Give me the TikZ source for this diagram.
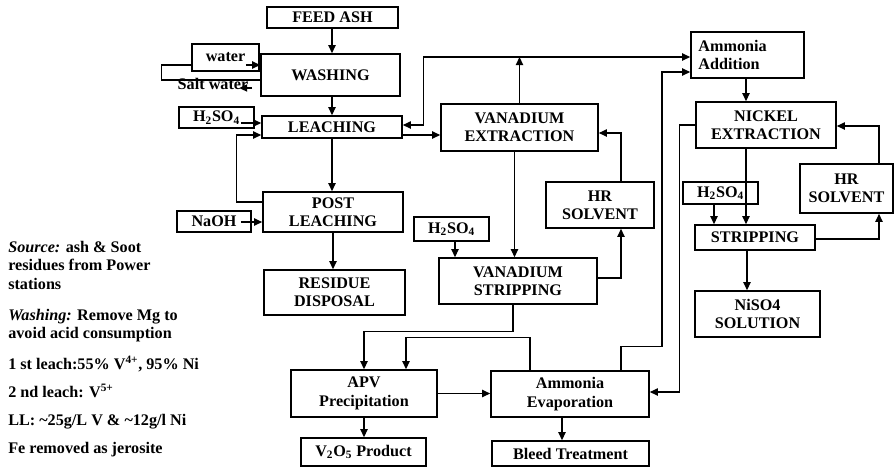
\documentclass[tikz,border=0pt]{standalone}
\usepackage{fontspec}
\setmainfont{Liberation Serif}
\usetikzlibrary{arrows.meta, calc}
\tikzset{
  box/.style={rectangle, draw, line width=1.1pt, align=center, inner sep=2pt,
              font=\fontsize{11.5}{13}\selectfont\bfseries},
  feedin/.style={box, inner sep=1pt},
  notes/.style={align=left, inner sep=0pt, font=\fontsize{11.5}{13}\selectfont\bfseries},
  flow/.style={-{Triangle[length=2mm, width=1.8mm]}, line width=0.9pt},
  link/.style={line width=0.9pt}
}

\begin{document}
\begin{tikzpicture}[x=0.025cm, y=-0.025cm]
  \useasboundingbox (0,0) rectangle (894,470);

  % left column
  \node[box, minimum width=3.275cm, minimum height=0.525cm] (feed) at (332.5,17.5) {FEED ASH};
  \node[box, minimum width=3.475cm, minimum height=1.05cm] (wash) at (330.5,75) {WASHING};
  \node[feedin, minimum width=1.675cm, minimum height=0.675cm] (water) at (225.5,57.5) {water};
  \node[font=\fontsize{11.5}{13}\selectfont\bfseries, inner sep=0pt] (salt) at (213,84) {Salt water};
  \node[feedin, minimum width=1.875cm, minimum height=0.525cm] (acidA) at (216.5,117.5) {H\textsubscript{2}SO\textsubscript{4}};
  \node[box, minimum width=3.5cm, minimum height=0.55cm] (leach) at (332,127) {LEACHING};
  \node[box, minimum width=3.5cm, minimum height=1.0cm] (post) at (333,212) {POST\\LEACHING};
  \node[feedin, minimum width=1.85cm, minimum height=0.525cm] (naoh) at (214,221.5) {NaOH};
  \node[box, minimum width=3.525cm, minimum height=1.125cm] (resid) at (334.5,292.5) {RESIDUE\\DISPOSAL};

  % vanadium circuit
  \node[box, minimum width=3.925cm, minimum height=1.175cm] (vext) at (519.5,127.5) {VANADIUM\\EXTRACTION};
  \node[box, minimum width=2.7cm, minimum height=1.15cm] (hrv) at (600,205) {HR\\SOLVENT};
  \node[feedin, minimum width=1.875cm, minimum height=0.6cm] (acidB) at (451.5,229) {H\textsubscript{2}SO\textsubscript{4}};
  \node[box, minimum width=3.95cm, minimum height=1.15cm] (vstr) at (518,281) {VANADIUM\\STRIPPING};
  \node[box, minimum width=3.65cm, minimum height=1.175cm] (apv) at (364,393.5) {APV\\Precipitation};
  \node[box, minimum width=3.95cm, minimum height=1.15cm] (amevap) at (570,394) {Ammonia\\Evaporation};
  \node[box, minimum width=3.125cm, minimum height=0.7cm] (v2o5) at (363.5,452) {V\textsubscript{2}O\textsubscript{5} Product};
  \node[box, minimum width=3.925cm, minimum height=0.625cm] (bleed) at (570.5,453.5) {Bleed Treatment};

  % nickel circuit
  \node[box, text width=2.45cm, align=left, minimum width=2.825cm, minimum height=1.15cm] (amadd) at (747.5,55) {Ammonia\\Addition};
  \node[box, minimum width=3.5cm, minimum height=1.15cm] (niext) at (766,125) {NICKEL\\EXTRACTION};
  \node[feedin, minimum width=1.875cm, minimum height=0.55cm] (acidC) at (720.5,193) {H\textsubscript{2}SO\textsubscript{4}};
  \node[box, minimum width=2.325cm, minimum height=1.225cm] (hrn) at (846.5,188.5) {HR\\SOLVENT};
  \node[box, minimum width=3.0cm, minimum height=0.625cm] (nistr) at (755,237.5) {STRIPPING};
  \node[box, minimum width=3.125cm, minimum height=1.15cm] (niso) at (757.5,314) {NiSO4\\SOLUTION};

  % notes
  \node[notes, anchor=north west] (remarks) at (8,241) {\textit{Source:} ash \& Soot\\
    residues from Power\\ stations\\[9pt]
    \textit{Washing:} Remove Mg to\\ avoid acid consumption\\[9pt]
    1 st leach:55\% V\textsuperscript{4+}, 95\% Ni\\[7pt]
    2 nd leach: V\textsuperscript{5+}\\[7pt]
    LL: \textasciitilde25g/L V \& \textasciitilde12g/l Ni\\[7pt]
    Fe removed as jerosite};

  % ash side
  \draw[flow] (feed.south -| leach.north) -- (wash.north -| leach.north);
  \draw[flow] (wash.south -| leach.north) -- (leach.north);
  \draw[flow] ($(water.east)+(-14,7.5)$) coordinate (wa) -- (wa -| wash.west);
  \draw[link] ($(wash.west)+(0,5)$) -| ($(water.west)+(-30,7.5)$) -- ($(water.west)+(0,7.5)$);
  \draw[flow] ($(wash.west)+(-8,13)$) -- ++(-13,0);
  \draw[flow] ($(acidA.east)+(-14,5.5)$) coordinate (aa) -- (aa -| leach.west);
  \draw[flow] ($(post.west)+(0,-10)$) -| ($(leach.west)+(-25,8)$) -- ($(leach.west)+(0,8)$);
  \draw[flow] (leach.south) -- (leach.south |- post.north);
  \draw[flow] ($(naoh.east)+(-11,0.5)$) coordinate (na) -- (na -| post.west);
  \draw[flow] (post.south) -- (post.south |- resid.north);

  % vanadium loop
  \draw[flow] ($(leach.east)+(0,8)$) coordinate (lv) -- (lv -| vext.west);
  \path (amadd.west) ++(0,2) coordinate (aw);
  \draw[flow] (vext.north) -- (vext.north |- aw);
  \draw[flow] (vext.north |- aw) -- (aw);
  \draw[flow] (vext.north |- aw) -| ($(leach.east)+(21,-2)$) -- ($(leach.east)+(0,-2)$);
  \draw[flow] ($(vext.south)+(-5,0)$) coordinate (vs) -- (vs |- vstr.north);
  \draw[flow] ($(hrv.north)+(21,0)$) |- ($(vext.east)+(0,5.5)$);
  \draw[flow] ($(vstr.east)+(0,-3)$) -| ($(hrv.south)+(21,0)$);
  \draw[flow] ($(acidB.south)+(3.5,0)$) coordinate (ab) -- (ab |- vstr.north);
  \draw[flow] ($(vstr.south)+(-5,0)$) |- ($(apv.north)+(0,-38)$) -- (apv.north);
  \draw[flow] (apv.east) -- (apv.east -| amevap.west);
  \draw[flow] ($(amevap.north)+(-40,0)$) |- ($(apv.north)+(42,-32)$) -- ($(apv.north)+(42,0)$);
  \draw[flow] (apv.south) -- (apv.south |- v2o5.north);
  \draw[flow] ($(amevap.south)+(-8,0)$) coordinate (ae) -- (ae |- bleed.north);

  % nickel loop
  \draw[flow] ($(amevap.north)+(51,0)$) |- ($(amevap.north)+(92,-24)$) |- ($(amadd.west)+(0,17)$);
  \draw[flow] ($(amadd.south)+(-1.5,0)$) coordinate (an) -- (an |- niext.north);
  \draw[flow] (niext.west) -| ($(amevap.east)+(30,-2)$) -- ($(amevap.east)+(0,-2)$);
  \draw[flow] ($(niext.south)+(-20,0)$) coordinate (ns) -- (ns |- nistr.north);
  \draw[flow] ($(acidC.south)+(-6.5,0)$) coordinate (ac) -- (ac |- nistr.north);
  \draw[flow] ($(nistr.east)+(0,1.5)$) -| ($(hrn.south)+(32.5,0)$);
  \draw[flow] ($(hrn.north)+(32.5,0)$) |- ($(niext.east)+(0,1)$);
  \draw[flow] ($(nistr.south)+(-8,0)$) coordinate (nn) -- (nn |- niso.north);
\end{tikzpicture}
\end{document}
